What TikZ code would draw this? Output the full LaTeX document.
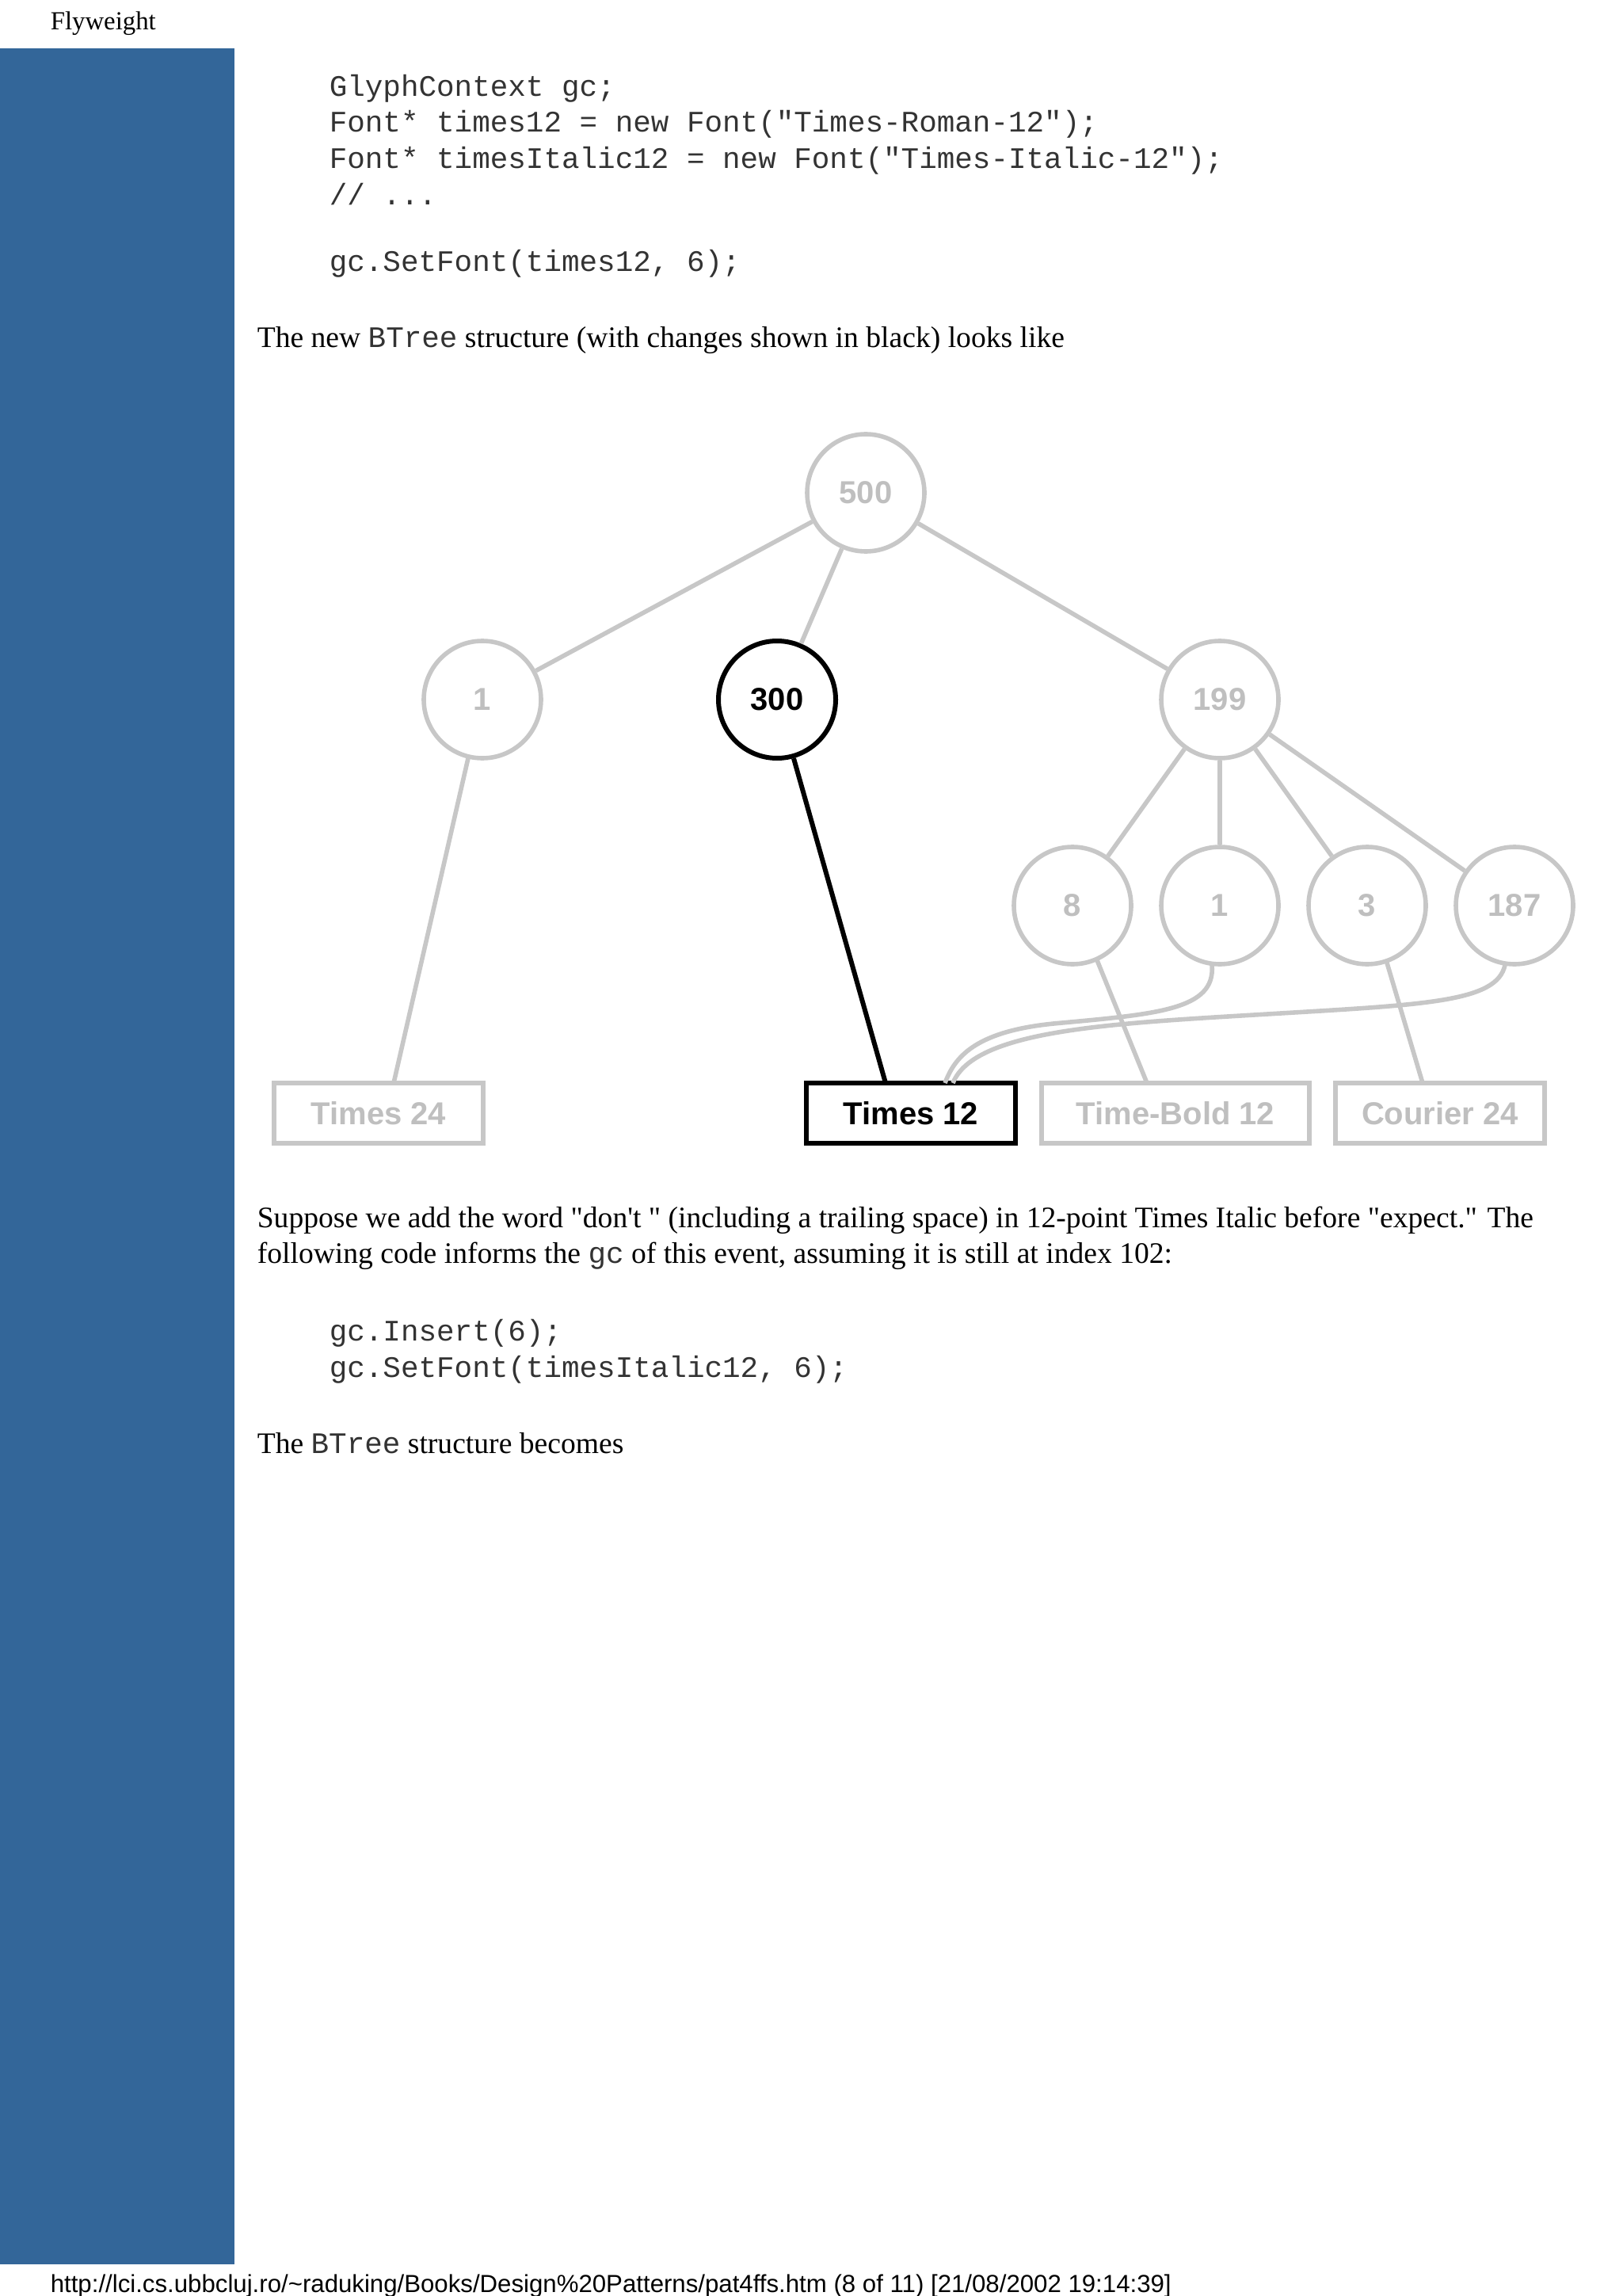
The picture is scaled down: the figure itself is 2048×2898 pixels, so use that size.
\documentclass[tikz,border=0pt]{standalone}
\usepackage{fontspec}
\setmainfont{Liberation Serif}
\setsansfont{Liberation Sans}
\setmonofont{Liberation Mono}
\begin{document}
\begin{tikzpicture}[x=0.25pt,y=-0.25pt,
  gl/.style={draw=black!22,line width=1.4pt},
  bl/.style={draw=black,line width=1.5pt},
  circ/.style={circle,minimum size=37pt,inner sep=0pt,font=\sffamily\bfseries\fontsize{10}{10}\selectfont},
  gcirc/.style={circ,gl,text=black!25},
  bcirc/.style={circ,bl},
  gbox/.style={rectangle,gl,text=black!25,minimum height=19pt,inner sep=0pt,font=\sffamily\bfseries\fontsize{10}{10}\selectfont},
  bbox/.style={gbox,bl,text=black},
  code/.style={anchor=base west,inner sep=0pt,font=\ttfamily\fontsize{9.4}{9.4}\selectfont,text=black!80},
  body/.style={anchor=base west,inner sep=0pt,font=\fontsize{9.4}{9.4}\selectfont},
  ]
\useasboundingbox (0,0) rectangle (2048,2898);
\fill[white] (0,0) rectangle (2048,2898);
\fill[fill={rgb,255:red,51;green,102;blue,153}] (0,61) rectangle (296,2858);
\node[body,font=\fontsize{8.2}{8.2}\selectfont] (hdr) at (63,38) {Flyweight};
\node[anchor=base west,inner sep=0pt,font=\sffamily\fontsize{7.8}{7.8}\selectfont] (ftr) at (63,2893) {http://lci.cs.ubbcluj.ro/\textasciitilde raduking/Books/Design\%20Patterns/pat4ffs.htm (8 of 11) [21/08/2002 19:14:39]};
\node[code] (c1) at (415,122) {GlyphContext gc;};
\node[code] (c2) at (415,167) {Font* times12 = new Font("Times-Roman-12");};
\node[code] (c3) at (415,213) {Font* timesItalic12 = new Font("Times-Italic-12");};
\node[code] (c4) at (415,259) {// ...};
\node[code] (c5) at (415,343) {gc.SetFont(times12, 6);};
\node[body] (t1) at (324,439) {The new \texttt{\color{black!80}BTree} structure (with changes shown in black) looks like};
\node[body] (t2) at (324,1549) {Suppose we add the word \textquotedbl don\textquotesingle t \textquotedbl{} (including a trailing space) in 12-point Times Italic before \textquotedbl expect.\textquotedbl{} The};
\node[body] (t3) at (324,1594) {following code informs the \texttt{\color{black!80}gc} of this event, assuming it is still at index 102:};
\node[code] (c6) at (415,1692) {gc.Insert(6);};
\node[code] (c7) at (415,1738) {gc.SetFont(timesItalic12, 6);};
\node[body] (t4) at (324,1834) {The \texttt{\color{black!80}BTree} structure becomes};
% tree
\node[gcirc] (n500) at (1093,622) {500};
\node[gcirc] (n1) at (609,883) {1};
\node[bcirc] (n300) at (981,883) {300};
\node[gcirc] (n199) at (1540,883) {199};
\node[gcirc] (n8) at (1354,1143) {8};
\node[gcirc] (n1b) at (1540,1143) {1};
\node[gcirc] (n3) at (1726,1143) {3};
\node[gcirc] (n187) at (1912,1143) {187};
\node[gbox,minimum width=66pt] (b24) at (478,1405) {Times 24};
\node[bbox,minimum width=66pt] (b12) at (1150,1405) {Times 12};
\node[gbox,minimum width=84.5pt] (bb12) at (1484,1405) {Time-Bold 12};
\node[gbox,minimum width=66pt] (c24) at (1818,1405) {Courier 24};
\draw[gl] (n500) -- (n1);
\draw[gl] (n500) -- (n300);
\draw[gl] (n500) -- (n199);
\draw[gl] (n199) -- (n8);
\draw[gl] (n199) -- (n1b);
\draw[gl] (n199) -- (n3);
\draw[gl] (n199) -- (n187);
\coordinate (a1) at (591,957);
\coordinate (e24) at (497,1367);
\draw[gl] (a1) -- (e24);
\coordinate (e12) at (1118,1367);
\draw[bl] (n300) -- (e12);
\coordinate (s8) at (1385,1212);
\coordinate (e8) at (1448,1367);
\draw[gl] (s8) -- (e8);
\coordinate (s3) at (1750,1212);
\coordinate (e3) at (1796,1367);
\draw[gl] (s3) -- (e3);
\coordinate (k1) at (1193,1367);
\coordinate (k2) at (1203,1367);
\draw[gl] (1530,1218) .. controls (1535,1275) and (1460,1280) .. (1330,1292) .. controls (1230,1302) and (1205,1335) .. (k1);
\draw[gl] (1900,1218) .. controls (1890,1265) and (1800,1268) .. (1600,1280) .. controls (1400,1292) and (1230,1300) .. (k2);
\end{tikzpicture}
\end{document}
